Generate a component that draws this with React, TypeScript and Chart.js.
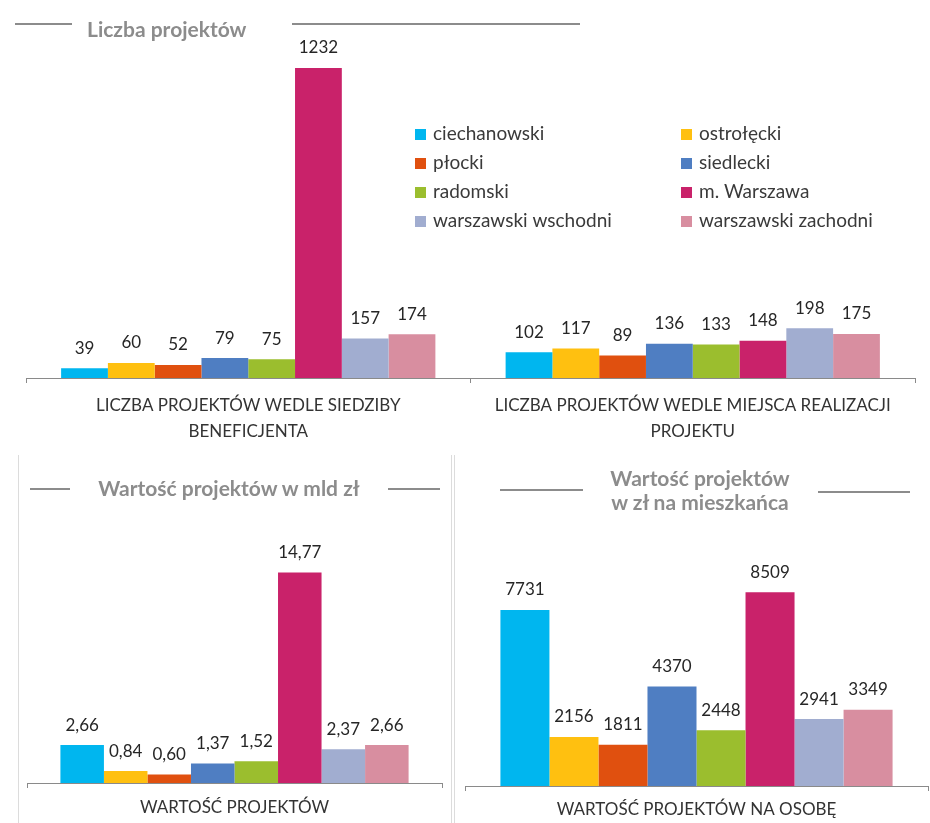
import React, { useEffect, useRef } from "react";
import { Chart, registerables } from "chart.js";

Chart.register(...registerables);

const FONT = "Lato, 'Liberation Sans', sans-serif";
const AXIS_COLOR = "#8a8a8a";
const TITLE_COLOR = "#8c8c8c";
const TEXT_COLOR = "#262626";

const REGIONS = [
  "ciechanowski",
  "ostrołęcki",
  "płocki",
  "siedlecki",
  "radomski",
  "m. Warszawa",
  "warszawski wschodni",
  "warszawski zachodni",
];
const COLORS = ["#00B6EF", "#FFC010", "#E0500F", "#4F7EC2", "#9BBE2E", "#C9226A", "#A1ADD0", "#D88EA0"];

const COUNT_CATEGORIES = [
  ["LICZBA PROJEKTÓW WEDLE SIEDZIBY", "BENEFICJENTA"],
  ["LICZBA PROJEKTÓW WEDLE MIEJSCA REALIZACJI", "PROJEKTU"],
];
const COUNT_BY_SEAT = [39, 60, 52, 79, 75, 1232, 157, 174];
const COUNT_BY_PLACE = [102, 117, 89, 136, 133, 148, 198, 175];

const VALUE_CATEGORIES = ["WARTOŚĆ PROJEKTÓW"];
const VALUE_BLN = [2.66, 0.84, 0.6, 1.37, 1.52, 14.77, 2.37, 2.66];

const PER_CAPITA_CATEGORIES = ["WARTOŚĆ PROJEKTÓW NA OSOBĘ"];
const VALUE_PER_CAPITA = [7731, 2156, 1811, 4370, 2448, 8509, 2941, 3349];

const fmtInt = (v: number) => String(v);
const fmtDec = (v: number) => v.toFixed(2).replace(".", ",");

function valueLabelsPlugin(fmt: (v: number) => string) {
  return {
    id: "valueLabels",
    afterDatasetsDraw(chart: any) {
      const ctx = chart.ctx;
      ctx.save();
      ctx.font = `17px ${FONT}`;
      ctx.fillStyle = TEXT_COLOR;
      ctx.textAlign = "center";
      ctx.textBaseline = "middle";
      chart.data.datasets.forEach((ds: any, di: number) => {
        const meta = chart.getDatasetMeta(di);
        meta.data.forEach((el: any, i: number) => {
          ctx.fillText(fmt(ds.data[i]), el.x, el.y - 20);
        });
      });
      ctx.restore();
    },
  };
}

const legendPlugin = {
  id: "gridLegend",
  afterDraw(chart: any) {
    const ctx = chart.ctx;
    ctx.save();
    ctx.font = `19px ${FONT}`;
    ctx.textBaseline = "middle";
    ctx.textAlign = "left";
    const colX = [415, 681];
    const rowY = [134, 163, 192, 221];
    chart.data.datasets.forEach((ds: any, i: number) => {
      const x = colX[i % 2];
      const y = rowY[Math.floor(i / 2)];
      ctx.fillStyle = ds.backgroundColor;
      ctx.fillRect(x, y - 5, 11, 11);
      ctx.fillStyle = "#3a3a3a";
      ctx.fillText(ds.label, x + 18, y);
    });
    ctx.restore();
  },
};

type PanelProps = {
  left: number;
  top: number;
  width: number;
  height: number;
  labels: any[];
  series: number[][];
  yMax: number;
  padL: number;
  padR: number;
  padT: number;
  axisH: number;
  tickPad: number;
  lineH: number;
  catPct: number;
  fmt: (v: number) => string;
  legend?: boolean;
};

function BarPanel(p: PanelProps) {
  const ref = useRef<HTMLCanvasElement | null>(null);
  useEffect(() => {
    if (!ref.current) return;
    const chart = new Chart(ref.current, {
      type: "bar",
      data: {
        labels: p.labels,
        datasets: REGIONS.map((r, i) => ({
          label: r,
          data: p.series.map((s) => s[i]),
          backgroundColor: COLORS[i],
          borderWidth: 0,
          categoryPercentage: p.catPct,
          barPercentage: 1,
        })),
      },
      options: {
        responsive: false,
        animation: false,
        events: [],
        layout: { padding: { left: p.padL, right: p.padR, top: p.padT, bottom: 0 } },
        plugins: {
          legend: { display: false },
          tooltip: { enabled: false },
          title: { display: false },
        },
        scales: {
          x: {
            grid: {
              display: true,
              drawOnChartArea: false,
              drawTicks: true,
              tickLength: 5,
              offset: true,
              color: AXIS_COLOR,
              lineWidth: 1,
            },
            border: { display: true, color: AXIS_COLOR, width: 1 },
            ticks: {
              padding: p.tickPad,
              color: "#333333",
              maxRotation: 0,
              minRotation: 0,
              autoSkip: false,
              font: { family: FONT, size: 17, lineHeight: p.lineH / 17 },
            },
            afterFit: (s: any) => {
              s.height = p.axisH;
            },
          },
          y: { display: false, min: 0, max: p.yMax },
        },
      } as any,
      plugins: [valueLabelsPlugin(p.fmt), ...(p.legend ? [legendPlugin] : [])],
    });
    return () => chart.destroy();
  }, []);
  return (
    <canvas
      ref={ref}
      width={p.width}
      height={p.height}
      style={{ position: "absolute", left: p.left, top: p.top, width: p.width, height: p.height, display: "block" }}
    />
  );
}

function Line({ x1, x2, y }: { x1: number; x2: number; y: number }) {
  return <div style={{ position: "absolute", left: x1, top: y - 1, width: x2 - x1, height: 2, background: TITLE_COLOR }} />;
}

function TitleText({ text, baseline, left, center }: { text: string; baseline: number; left?: number; center?: number }) {
  const size = 21;
  const top = baseline - 0.887 * size;
  const style: any = {
    position: "absolute",
    top,
    font: `bold ${size}px ${FONT}`,
    lineHeight: `${size}px`,
    color: TITLE_COLOR,
    whiteSpace: "nowrap",
  };
  if (center !== undefined) {
    style.left = center - 200;
    style.width = 400;
    style.textAlign = "center";
  } else {
    style.left = left;
  }
  return <div style={style}>{text}</div>;
}

function VRule({ x }: { x: number }) {
  return <div style={{ position: "absolute", left: x, top: 455, width: 1, height: 368, background: "#dcdcdc" }} />;
}

export default function App() {
  return (
    <div style={{ position: "absolute", left: 0, top: 0, width: 930, height: 823, background: "#ffffff", overflow: "hidden" }}>
      <BarPanel
        left={0}
        top={0}
        width={930}
        height={445}
        labels={COUNT_CATEGORIES}
        series={[COUNT_BY_SEAT, COUNT_BY_PLACE]}
        yMax={1383}
        padL={26}
        padR={15}
        padT={30}
        axisH={67}
        tickPad={10}
        lineH={26}
        catPct={0.842}
        fmt={fmtInt}
        legend
      />
      <Line x1={15} x2={72} y={24} />
      <Line x1={292} x2={580} y={24} />
      <TitleText text="Liczba projektów" baseline={37} left={87} />

      <VRule x={18} />
      <VRule x={451} />
      <VRule x={454} />

      <BarPanel
        left={0}
        top={455}
        width={452}
        height={368}
        labels={VALUE_CATEGORIES}
        series={[VALUE_BLN]}
        yMax={17.41}
        padL={27}
        padR={10}
        padT={80}
        axisH={40}
        tickPad={7}
        lineH={26}
        catPct={0.839}
        fmt={fmtDec}
      />
      <Line x1={30} x2={70} y={489} />
      <Line x1={388} x2={440} y={489} />
      <TitleText text="Wartość projektów w mld zł" baseline={496} center={229} />

      <BarPanel
        left={454}
        top={455}
        width={476}
        height={368}
        labels={PER_CAPITA_CATEGORIES}
        series={[VALUE_PER_CAPITA]}
        yMax={11026}
        padL={11}
        padR={2}
        padT={80}
        axisH={37}
        tickPad={6}
        lineH={26}
        catPct={0.847}
        fmt={fmtInt}
      />
      <Line x1={500} x2={583} y={490} />
      <Line x1={818} x2={910} y={492} />
      <TitleText text="Wartość projektów" baseline={486} center={700} />
      <TitleText text="w zł na mieszkańca" baseline={510} center={700} />
    </div>
  );
}
